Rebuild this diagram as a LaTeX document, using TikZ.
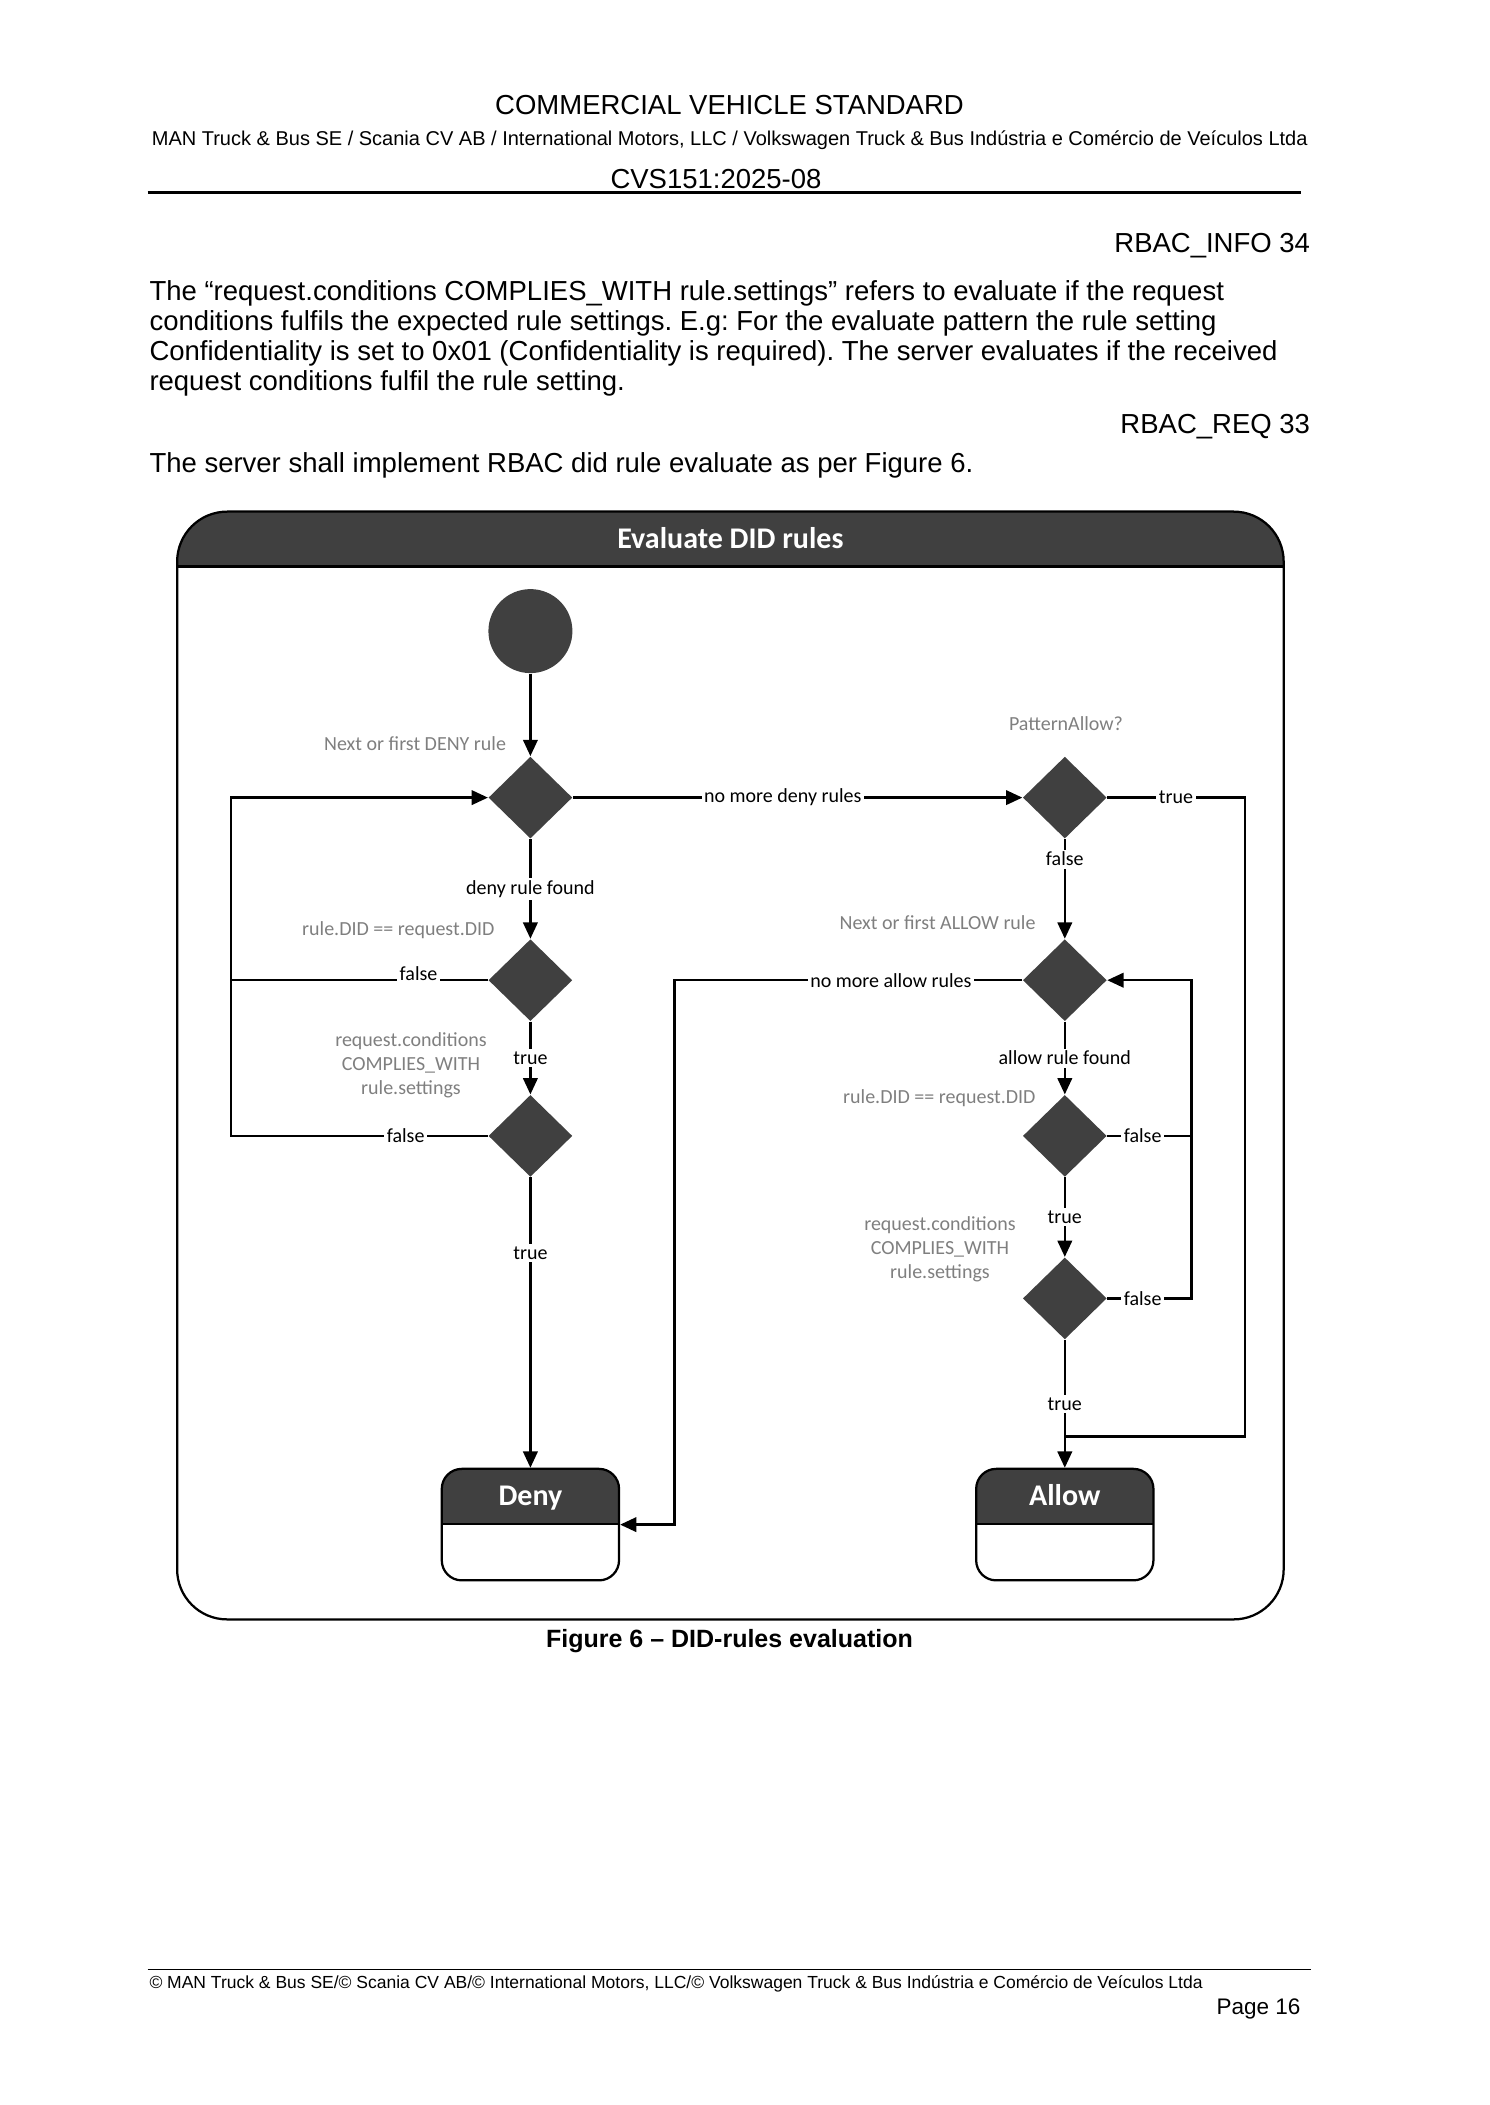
\documentclass[tikz,border=0pt]{standalone}
\usepackage{fontspec}
\setmainfont{Liberation Sans}
\newfontfamily\visiofont{Carlito}
\usetikzlibrary{shapes.geometric,arrows.meta,positioning}
\definecolor{darkfill}{HTML}{404040}
\definecolor{notegray}{HTML}{7F7F7F}
\frenchspacing

\begin{document}
\begin{tikzpicture}[x=0.4pt, y=-0.4pt,
  body/.style={font=\fontsize{11}{13}\selectfont, inner sep=0pt},
  small/.style={font=\fontsize{9}{11}\selectfont, inner sep=0pt},
  header/.style={path picture={
    \fill[darkfill, sharp corners] (path picture bounding box.north west) rectangle ([yshift=-#1]path picture bounding box.north east);
    \draw[line width=0.9pt, sharp corners] ([yshift=-#1]path picture bounding box.north west) -- ([yshift=-#1]path picture bounding box.north east);}},
  panel/.style={draw, line width=0.9pt, rounded corners=20pt, minimum width=442.6pt, minimum height=443.1pt, header=22pt},
  statebox/.style={draw, line width=0.9pt, rounded corners=8pt, minimum width=70.9pt, minimum height=44.6pt, header=22pt},
  boxtitle/.style={font=\visiofont\bfseries\fontsize{12}{14}\selectfont, text=white, text height=7.7pt, text depth=0pt, minimum height=22pt, inner sep=0pt},
  decision/.style={diamond, fill=darkfill, minimum width=33.6pt, minimum height=32.8pt, inner sep=0pt},
  flow/.style={line width=0.9pt, -{Triangle[length=6.5pt, width=5.8pt]}},
  wire/.style={line width=0.9pt},
  lbl/.style={font=\visiofont\fontsize{8}{9.6}\selectfont, fill=white, inner sep=1pt},
  note/.style={font=\visiofont\fontsize{8}{9.6}\selectfont, text=notegray, inner sep=0pt, align=center}]

\useasboundingbox (0,0) rectangle (1489,2105);

% page text
\node[body, anchor=base] (std) at (729.5,114.5) {COMMERCIAL VEHICLE STANDARD};
\node[font=\fontsize{8}{10}\selectfont, inner sep=0pt, anchor=base] (members) at (729.7,145.5) {MAN Truck \& Bus SE / Scania CV AB / International Motors, LLC / Volkswagen Truck \& Bus Indústria e Comércio de Veículos Ltda};
\node[body, anchor=base] (docid) at (716,189) {CVS151:2025-08};
\draw[line width=1pt] (147.7,192.5) -- (1300.5,192.5);
\node[body, anchor=base east] (info) at (1310.5,252) {RBAC\_INFO 34};
\node[body, anchor=base west] (para1) at (149,300) {The “request.conditions COMPLIES\_WITH rule.settings” refers to evaluate if the request};
\node[body, anchor=base west] (para2) at (149,330.2) {conditions fulfils the expected rule settings. E.g: For the evaluate pattern the rule setting};
\node[body, anchor=base west] (para3) at (149,360.3) {Confidentiality is set to 0x01 (Confidentiality is required). The server evaluates if the received};
\node[body, anchor=base west] (para4) at (149,390.5) {request conditions fulfil the rule setting.};
\node[body, anchor=base east] (req) at (1310.5,433) {RBAC\_REQ 33};
\node[body, anchor=base west] (shall) at (149,472) {The server shall implement RBAC did rule evaluate as per Figure 6.};

% diagram
\node[panel] (panel) at (730.4,1065.5) {};
\node[boxtitle, below=0pt of panel.north] (paneltitle) {Evaluate DID rules};

\node[circle, fill=darkfill, minimum size=33.6pt, inner sep=0pt] (start) at (530.4,631.1) {};
\node[decision] (d1) at (530.4,797.6) {};
\node[decision] (d2) at (530.4,980.2) {};
\node[decision] (d3) at (530.4,1135.9) {};
\node[decision] (d4) at (1064.8,797.6) {};
\node[decision] (d5) at (1064.8,980.2) {};
\node[decision] (d6) at (1064.8,1135.9) {};
\node[decision] (d7) at (1064.8,1298.4) {};
\node[statebox] (deny) at (530.4,1524.6) {};
\node[boxtitle, below=0pt of deny.north] (denytitle) {Deny};
\node[statebox] (allow) at (1064.8,1524.6) {};
\node[boxtitle, below=0pt of allow.north] (allowtitle) {Allow};

\coordinate (leftrail) at (231,0);
\coordinate (midrail) at (674.5,0);
\coordinate (innerrail) at (1191.5,0);
\coordinate (outerrail) at (1244.7,0);
\coordinate (allowjoin) at (1064.8,1436.6);

\node[note, anchor=east] (denynext) at (506.5,743.5) {Next or first DENY rule};
\node[note, anchor=east] (denymatch) at (495,930) {rule.DID == request.DID};
\node[note] (denycomply) at (411,1064.8) {request.conditions\\COMPLIES\_WITH\\rule.settings};
\node[note] (pattern) at (1066,723.7) {PatternAllow?};
\node[note, anchor=east] (allownext) at (1036,922.4) {Next or first ALLOW rule};
\node[note, anchor=east] (allowmatch) at (1036,1098) {rule.DID == request.DID};
\node[note] (allowcomply) at (940,1249.5) {request.conditions\\COMPLIES\_WITH\\rule.settings};

\draw[flow] (start) -- (d1);
\draw[flow] (d1) -- (d2) node[lbl, midway] (denyfound) {deny rule found};
\draw[flow] (d2) -- (d3) node[lbl, midway] (denytrue1) {true};
\draw[flow] (d3) -- (deny) node[lbl, pos=0.26] (denytrue2) {true};
\draw[wire] (d2.west) -- (d2.west -| leftrail) node[lbl, pos=0.27, yshift=2.5pt] (denyfalse1) {false};
\draw[flow] (d3.west) -- (d3.west -| leftrail) node[lbl, pos=0.32] (denyfalse2) {false} |- (d1.west);
\draw[flow] (d1) -- (d4) node[lbl, pos=0.467] (nodeny) {no more deny rules};
\draw[wire] (d4.east) -- (d4.east -| outerrail) node[lbl, midway] (patterntrue) {true} |- (allowjoin);
\draw[flow] (d4) -- (d5) node[lbl, pos=0.2] (patternfalse) {false};
\draw[flow] (d5.west) -- (d5.west -| midrail) node[lbl, pos=0.378] (noallow) {no more allow rules} |- (deny.east);
\draw[flow] (d5) -- (d6) node[lbl, midway] (allowfound) {allow rule found};
\draw[wire] (d6.east) -- (d6.east -| innerrail) node[lbl, pos=0.42] (allowfalse1) {false};
\draw[flow] (d6) -- (d7) node[lbl, midway] (allowtrue1) {true};
\draw[flow] (d7.east) -- (d7.east -| innerrail) node[lbl, pos=0.42] (allowfalse2) {false} |- (d5.east);
\draw[flow] (d7) -- (allow) node[lbl, midway] (allowtrue2) {true};

\node[font=\bfseries\fontsize{10}{12}\selectfont, anchor=base, inner sep=0pt] (caption) at (729.5,1647) {Figure 6 – DID-rules evaluation};

% footer
\draw[line width=0.75pt] (147.7,1969.5) -- (1310.5,1969.5);
\node[font=\fontsize{7}{9}\selectfont, anchor=base west, inner sep=0pt] (copyright) at (149,1988) {© MAN Truck \& Bus SE/© Scania CV AB/© International Motors, LLC/© Volkswagen Truck \& Bus Indústria e Comércio de Veículos Ltda};
\node[small, anchor=base east] (page) at (1301,2014) {Page 16};
\end{tikzpicture}
\end{document}
